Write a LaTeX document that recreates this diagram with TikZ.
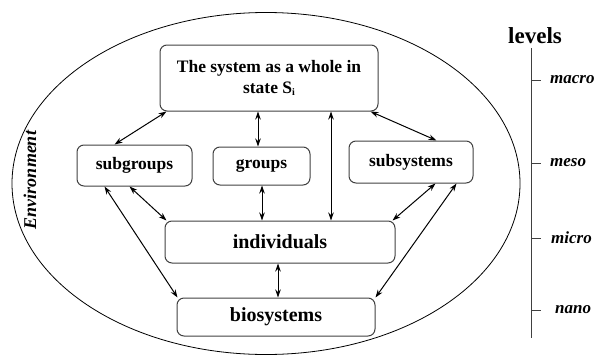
\documentclass[tikz,border=0pt]{standalone}
\usepackage{fontspec}
\setmainfont{Liberation Serif}
\usetikzlibrary{arrows.meta}
\begin{document}
\begin{tikzpicture}[x=1pt,y=-1pt,
  box/.style={draw=black!75, line width=1pt, rounded corners=7pt, inner sep=0pt, align=center,
    font=\fontsize{17.5}{21}\selectfont\bfseries},
  bigbox/.style={box, font=\fontsize{20}{24}\selectfont\bfseries},
  link/.style={{Stealth[length=8pt,width=5.5pt]}-{Stealth[length=8pt,width=5.5pt]}, line width=1pt},
  lvl/.style={anchor=west, inner sep=0pt, font=\fontsize{17}{20}\selectfont\bfseries\itshape},
  axis/.style={line width=1pt, draw=black!75}]
\useasboundingbox (0,0) rectangle (596,356);
\draw[line width=0.8pt] (266,183.5) ellipse [x radius=254pt, y radius=171pt];
\node[rotate=90, inner sep=0pt, font=\fontsize{18}{20}\selectfont\bfseries\itshape] (env) at (30,180) {Environment};

\node[box, minimum width=218pt, minimum height=66pt] (top) at (269,78) {The system as a whole in\\state S{\raisebox{-2pt}{\fontsize{10}{10}\selectfont i}}};
\node[box, minimum width=115pt, minimum height=41pt] (subg) at (134.5,165.5) {subgroups};
\node[box, minimum width=97pt, minimum height=38pt] (grp) at (261.5,166) {groups};
\node[box, minimum width=124pt, minimum height=42pt] (subs) at (411,162) {subsystems};
\node[bigbox, minimum width=230pt, minimum height=42pt] (ind) at (280,242) {individuals};
\node[bigbox, minimum width=198pt, minimum height=38pt] (bio) at (276,317) {biosystems};

\draw[link] ([xshift=7pt]top.south west) -- ([xshift=38pt]subg.north west);
\draw[link] ([xshift=-8pt]top.south east) -- ([xshift=88pt]subs.north west);
\draw[link] ([xshift=-11pt]top.south) -- ([xshift=-3.5pt]grp.north);
\draw[link] ([xshift=0.5pt]grp.south) -- ([xshift=-18pt]ind.north);
\draw[link] ([xshift=62pt]top.south) -- ([xshift=51pt]ind.north);
\draw[link] ([xshift=53pt]subg.south west) -- ([xshift=2pt]ind.north west);
\draw[link] ([xshift=28pt]subg.south west) -- ([xshift=1pt]bio.north west);
\draw[link] ([xshift=87pt]subs.south west) -- ([xshift=-3pt]ind.north east);
\draw[link] ([xshift=108pt]subs.south west) -- (bio.north east);
\draw[link] ([xshift=-2pt]ind.south) -- ([xshift=2pt]bio.north);

\node[inner sep=0pt, font=\fontsize{23}{26}\selectfont\bfseries] (lev) at (535,36) {levels};
\coordinate (axtop) at (531,48);
\coordinate (axbot) at (531,338);
\draw[axis] (axtop) -- (axbot);
\foreach \y/\nm/\xx in {80/macro/550, 163/meso/550, 238/micro/551, 310/nano/555}{
  \draw[axis] (531,\y) -- (541,\y);
  \node[lvl] at (\xx,\y) {\nm};
}
\end{tikzpicture}
\end{document}
